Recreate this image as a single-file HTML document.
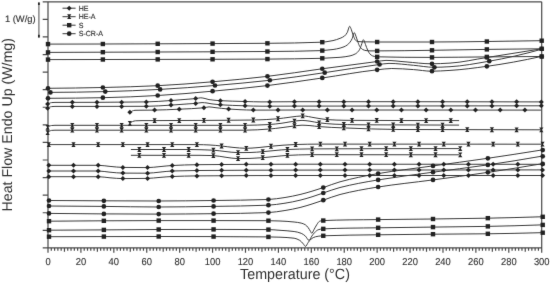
<!DOCTYPE html>
<html><head><meta charset="utf-8"><style>
html,body{margin:0;padding:0;background:#fff;width:550px;height:283px;overflow:hidden}
svg{display:block;font-family:"Liberation Sans",sans-serif;text-rendering:geometricPrecision}
text{stroke:#333;stroke-width:0.15px;paint-order:stroke}
.nb{stroke-width:0}
.lb text{stroke-width:0.12px}
#w{width:550px;height:283px;will-change:transform}
</style></head><body><div id="w">
<svg width="550" height="283" viewBox="0 0 550 283">
<defs><filter id="bl" x="0" y="0" width="550" height="283" filterUnits="userSpaceOnUse"><feConvolveMatrix order="3" kernelMatrix="0.0052 0.0619 0.0052 0.0619 0.7314 0.0619 0.0052 0.0619 0.0052" edgeMode="duplicate" preserveAlpha="false"/></filter></defs>
<rect width="550" height="283" fill="#fff"/>
<g filter="url(#bl)">
<g fill="none" stroke="#4a4a4a" stroke-width="1.2">
<path d="M42.7 1.8H541.7M48.0 1.8V252.8M541.7 1.8V252.8M42.7 247.9H541.7"/>
<path d="M42.7 19.38H48.0M42.7 36.96H48.0M42.7 54.54H48.0M42.7 72.11H48.0M42.7 89.69H48.0M42.7 107.27H48.0M42.7 124.85H48.0M42.7 142.43H48.0M42.7 160.01H48.0M42.7 177.59H48.0M42.7 195.16H48.0M42.7 212.74H48.0M42.7 230.32H48.0M51.29 247.9v2.9M54.58 247.9v2.9M57.87 247.9v2.9M61.17 247.9v2.9M64.46 247.9v3.8M67.75 247.9v2.9M71.04 247.9v2.9M74.33 247.9v2.9M77.62 247.9v2.9M80.91 247.9v4.9M84.21 247.9v2.9M87.50 247.9v2.9M90.79 247.9v2.9M94.08 247.9v2.9M97.37 247.9v3.8M100.66 247.9v2.9M103.95 247.9v2.9M107.25 247.9v2.9M110.54 247.9v2.9M113.83 247.9v4.9M117.12 247.9v2.9M120.41 247.9v2.9M123.70 247.9v2.9M126.99 247.9v2.9M130.28 247.9v3.8M133.58 247.9v2.9M136.87 247.9v2.9M140.16 247.9v2.9M143.45 247.9v2.9M146.74 247.9v4.9M150.03 247.9v2.9M153.32 247.9v2.9M156.62 247.9v2.9M159.91 247.9v2.9M163.20 247.9v3.8M166.49 247.9v2.9M169.78 247.9v2.9M173.07 247.9v2.9M176.36 247.9v2.9M179.66 247.9v4.9M182.95 247.9v2.9M186.24 247.9v2.9M189.53 247.9v2.9M192.82 247.9v2.9M196.11 247.9v3.8M199.40 247.9v2.9M202.70 247.9v2.9M205.99 247.9v2.9M209.28 247.9v2.9M212.57 247.9v4.9M215.86 247.9v2.9M219.15 247.9v2.9M222.44 247.9v2.9M225.74 247.9v2.9M229.03 247.9v3.8M232.32 247.9v2.9M235.61 247.9v2.9M238.90 247.9v2.9M242.19 247.9v2.9M245.48 247.9v4.9M248.78 247.9v2.9M252.07 247.9v2.9M255.36 247.9v2.9M258.65 247.9v2.9M261.94 247.9v3.8M265.23 247.9v2.9M268.52 247.9v2.9M271.82 247.9v2.9M275.11 247.9v2.9M278.40 247.9v4.9M281.69 247.9v2.9M284.98 247.9v2.9M288.27 247.9v2.9M291.56 247.9v2.9M294.86 247.9v3.8M298.15 247.9v2.9M301.44 247.9v2.9M304.73 247.9v2.9M308.02 247.9v2.9M311.31 247.9v4.9M314.60 247.9v2.9M317.89 247.9v2.9M321.19 247.9v2.9M324.48 247.9v2.9M327.77 247.9v3.8M331.06 247.9v2.9M334.35 247.9v2.9M337.64 247.9v2.9M340.93 247.9v2.9M344.23 247.9v4.9M347.52 247.9v2.9M350.81 247.9v2.9M354.10 247.9v2.9M357.39 247.9v2.9M360.68 247.9v3.8M363.97 247.9v2.9M367.27 247.9v2.9M370.56 247.9v2.9M373.85 247.9v2.9M377.14 247.9v4.9M380.43 247.9v2.9M383.72 247.9v2.9M387.01 247.9v2.9M390.31 247.9v2.9M393.60 247.9v3.8M396.89 247.9v2.9M400.18 247.9v2.9M403.47 247.9v2.9M406.76 247.9v2.9M410.05 247.9v4.9M413.35 247.9v2.9M416.64 247.9v2.9M419.93 247.9v2.9M423.22 247.9v2.9M426.51 247.9v3.8M429.80 247.9v2.9M433.09 247.9v2.9M436.39 247.9v2.9M439.68 247.9v2.9M442.97 247.9v4.9M446.26 247.9v2.9M449.55 247.9v2.9M452.84 247.9v2.9M456.13 247.9v2.9M459.43 247.9v3.8M462.72 247.9v2.9M466.01 247.9v2.9M469.30 247.9v2.9M472.59 247.9v2.9M475.88 247.9v4.9M479.17 247.9v2.9M482.46 247.9v2.9M485.76 247.9v2.9M489.05 247.9v2.9M492.34 247.9v3.8M495.63 247.9v2.9M498.92 247.9v2.9M502.21 247.9v2.9M505.50 247.9v2.9M508.80 247.9v4.9M512.09 247.9v2.9M515.38 247.9v2.9M518.67 247.9v2.9M521.96 247.9v2.9M525.25 247.9v3.8M528.54 247.9v2.9M531.84 247.9v2.9M535.13 247.9v2.9M538.42 247.9v2.9"/>
</g>
<line x1="38.9" y1="2.4" x2="38.9" y2="37.4" stroke="#6a6a6a" stroke-width="1.2"/><line x1="38.9" y1="2.4" x2="38.9" y2="5.0" stroke="#222" stroke-width="1.7"/><line x1="38.9" y1="34.8" x2="38.9" y2="37.4" stroke="#222" stroke-width="1.7"/>
<g fill="none" stroke="#3a3a3a" stroke-width="1.0" stroke-linejoin="round">
<path d="M48.10 88.30C66.37 88.20 84.63 87.87 102.90 87.50C121.13 87.13 139.37 86.52 157.60 85.70C175.87 84.88 194.13 83.31 212.40 81.80C230.67 80.29 248.93 78.50 267.20 76.40C285.47 74.30 303.73 71.27 322.00 68.80C340.17 66.34 358.33 63.93 376.50 61.60C379.67 61.19 382.83 60.40 386.00 60.40C392.67 60.40 399.33 61.40 406.00 61.90C414.43 62.53 422.87 63.80 431.30 63.80C437.53 63.80 443.77 63.45 450.00 63.10C462.10 62.42 474.20 59.47 486.30 57.60C504.57 54.77 522.83 51.88 541.10 48.90"/>
<path d="M48.10 92.40C67.13 92.39 86.17 92.00 105.20 91.60C123.43 91.22 141.67 90.34 159.90 89.40C178.17 88.46 196.43 86.99 214.70 85.50C232.97 84.01 251.23 82.36 269.50 80.30C287.77 78.24 306.03 75.32 324.30 72.70C342.43 70.10 360.57 66.91 378.70 64.60C382.13 64.16 385.57 63.40 389.00 63.40C397.20 63.40 405.40 64.59 413.60 65.30C420.40 65.89 427.20 67.30 434.00 67.30C439.33 67.30 444.67 66.99 450.00 66.70C462.87 66.00 475.73 63.50 488.60 61.30C506.10 58.31 523.60 54.24 541.10 49.40"/>
<path d="M48.10 98.30C66.37 98.30 84.63 98.01 102.90 97.70C121.13 97.39 139.37 96.47 157.60 95.50C175.87 94.53 194.13 92.82 212.40 91.20C230.67 89.58 248.93 87.75 267.20 85.60C285.47 83.45 303.73 80.62 322.00 78.00C340.17 75.39 358.33 71.87 376.50 69.90C381.60 69.35 386.70 68.50 391.80 68.50C399.07 68.50 406.33 69.12 413.60 69.60C419.50 69.99 425.40 71.20 431.30 71.20C437.53 71.20 443.77 70.77 450.00 70.40C462.10 69.69 474.20 68.03 486.30 66.40C504.57 63.94 522.83 60.57 541.10 56.50"/>
<path d="M48.10 44.10C66.37 44.08 84.63 44.04 102.90 44.00C121.13 43.96 139.37 43.87 157.60 43.80C175.87 43.73 194.13 43.68 212.40 43.60C230.67 43.52 248.93 43.46 267.20 43.30C285.47 43.14 303.73 42.96 322.00 42.20C323.33 42.14 324.67 41.96 326.00 41.80C328.33 41.51 330.67 41.12 333.00 40.60C335.37 40.07 337.73 39.26 340.10 38.30C341.53 37.72 342.97 37.17 344.40 36.10C345.33 35.40 346.27 34.17 347.20 32.60C348.03 31.20 348.87 26.30 349.70 26.30C350.27 26.30 350.83 28.43 351.40 29.80C352.10 31.50 352.80 34.44 353.50 36.10C354.23 37.84 354.97 39.80 355.70 40.40C356.40 40.98 357.10 41.40 357.80 41.50C359.20 41.69 360.60 41.76 362.00 41.80C366.90 41.93 371.80 42.00 376.70 42.00C394.97 42.00 413.23 42.00 431.50 42.00C449.77 42.00 468.03 41.71 486.30 41.50C504.57 41.29 522.83 41.02 541.10 40.70"/>
<path d="M48.10 52.40C66.37 52.33 84.63 52.27 102.90 52.20C121.13 52.13 139.37 52.07 157.60 52.00C175.87 51.93 194.13 51.88 212.40 51.80C230.67 51.72 248.93 51.65 267.20 51.50C285.47 51.35 303.73 51.25 322.00 50.60C323.33 50.55 324.67 50.33 326.00 50.20C328.33 49.97 330.67 49.81 333.00 49.50C335.37 49.19 337.73 48.70 340.10 48.10C341.40 47.77 342.70 47.35 344.00 46.80C345.07 46.35 346.13 45.77 347.20 45.00C348.13 44.32 349.07 43.38 350.00 42.20C350.70 41.31 351.40 40.18 352.10 38.70C352.80 37.22 353.50 32.60 354.20 32.60C354.77 32.60 355.33 34.72 355.90 36.10C356.53 37.64 357.17 40.13 357.80 41.80C358.50 43.64 359.20 45.70 359.90 46.70C360.83 48.03 361.77 49.03 362.70 49.50C363.80 50.06 364.90 50.46 366.00 50.60C367.33 50.77 368.67 50.90 370.00 50.90C372.23 50.90 374.47 50.90 376.70 50.90C394.97 50.90 413.23 50.54 431.50 50.30C449.77 50.06 468.03 49.64 486.30 49.40C504.57 49.16 522.83 48.95 541.10 48.80"/>
<path d="M48.10 59.60C66.37 59.57 84.63 59.53 102.90 59.50C121.13 59.47 139.37 59.43 157.60 59.40C175.87 59.37 194.13 59.34 212.40 59.30C230.67 59.26 248.93 59.21 267.20 59.10C285.47 58.99 303.73 58.79 322.00 58.30C323.33 58.26 324.67 58.17 326.00 58.10C330.70 57.85 335.40 57.69 340.10 57.30C343.40 57.03 346.70 56.61 350.00 55.90C351.90 55.49 353.80 54.80 355.70 53.70C356.87 53.03 358.03 51.89 359.20 50.20C359.90 49.19 360.60 47.04 361.30 45.30C362.00 43.56 362.70 39.70 363.40 39.70C364.10 39.70 364.80 42.90 365.50 44.60C366.23 46.38 366.97 48.70 367.70 50.20C368.40 51.63 369.10 53.06 369.80 53.80C370.73 54.79 371.67 55.57 372.60 55.90C373.97 56.38 375.33 56.76 376.70 56.80C394.97 57.31 413.23 57.40 431.50 57.40C449.77 57.40 468.03 57.05 486.30 56.90C504.57 56.75 522.83 56.62 541.10 56.50"/>
<path d="M48.10 104.10C48.57 103.73 49.03 103.40 49.50 103.20C50.17 102.92 50.83 102.67 51.50 102.60C52.67 102.48 53.83 102.41 55.00 102.40C70.00 102.31 85.00 102.35 100.00 102.30C115.47 102.25 130.93 102.15 146.40 101.90C154.70 101.77 163.00 101.05 171.30 100.50C176.87 100.13 182.43 99.63 188.00 99.20C190.57 99.00 193.13 98.87 195.70 98.60C197.40 98.42 199.10 97.80 200.80 97.80C202.20 97.80 203.60 98.21 205.00 98.50C206.33 98.78 207.67 99.38 209.00 99.60C211.00 99.94 213.00 100.12 215.00 100.30C216.83 100.46 218.67 100.61 220.50 100.70C228.67 101.10 236.83 101.28 245.00 101.50C250.67 101.65 256.33 101.90 262.00 101.90C274.67 101.90 287.33 101.70 300.00 101.70C333.33 101.70 366.67 101.70 400.00 101.70C447.03 101.70 494.07 101.79 541.10 101.90"/>
<path d="M48.10 108.20C48.57 107.79 49.03 107.40 49.50 107.20C50.17 106.91 50.83 106.67 51.50 106.60C52.67 106.48 53.83 106.40 55.00 106.40C70.00 106.40 85.00 106.40 100.00 106.40C115.47 106.40 130.93 106.37 146.40 106.30C154.70 106.26 163.00 105.59 171.30 105.10C176.87 104.77 182.43 104.28 188.00 103.90C190.57 103.73 193.13 103.62 195.70 103.40C197.80 103.22 199.90 102.60 202.00 102.60C203.67 102.60 205.33 102.82 207.00 103.00C208.67 103.18 210.33 103.67 212.00 103.90C214.83 104.29 217.67 104.62 220.50 104.80C228.67 105.32 236.83 105.56 245.00 105.80C250.67 105.97 256.33 106.20 262.00 106.20C274.67 106.20 287.33 106.12 300.00 106.10C333.33 106.05 366.67 106.04 400.00 106.00C447.03 105.95 494.07 105.88 541.10 105.80"/>
<path d="M130.30 112.20C130.97 111.70 131.63 111.25 132.30 111.00C133.20 110.67 134.10 110.33 135.00 110.30C137.33 110.23 139.67 110.22 142.00 110.20C146.07 110.16 150.13 110.15 154.20 110.10C162.50 110.00 170.80 109.57 179.10 109.20C187.30 108.84 195.50 108.58 203.70 107.80C205.47 107.63 207.23 106.90 209.00 106.90C211.00 106.90 213.00 107.38 215.00 107.60C219.50 108.10 224.00 108.66 228.50 109.00C232.33 109.29 236.17 109.54 240.00 109.70C244.33 109.88 248.67 110.10 253.00 110.10C268.67 110.10 284.33 110.00 300.00 110.00C333.33 110.00 366.67 110.00 400.00 110.00C447.03 110.00 494.07 110.05 541.10 110.10"/>
<path d="M130.30 123.30C131.03 122.58 131.77 121.90 132.50 121.60C133.50 121.19 134.50 120.86 135.50 120.80C137.67 120.67 139.83 120.60 142.00 120.60C146.17 120.60 150.33 120.60 154.50 120.60C171.00 120.60 187.50 120.49 204.00 120.40C221.00 120.31 238.00 120.26 255.00 120.00C262.43 119.89 269.87 119.38 277.30 118.80C281.53 118.47 285.77 117.69 290.00 117.20C294.10 116.73 298.20 115.90 302.30 115.90C306.53 115.90 310.77 117.17 315.00 117.80C319.03 118.40 323.07 119.34 327.10 119.60C333.07 119.98 339.03 120.26 345.00 120.30C383.03 120.54 421.07 120.60 459.10 120.60"/>
<path d="M48.10 127.30C48.57 126.79 49.03 126.31 49.50 126.10C50.17 125.80 50.83 125.57 51.50 125.50C52.67 125.38 53.83 125.30 55.00 125.30C118.33 125.30 181.67 125.30 245.00 125.30C253.17 125.30 261.33 124.93 269.50 124.50C273.67 124.28 277.83 123.73 282.00 123.20C286.00 122.69 290.00 121.69 294.00 121.20C296.67 120.87 299.33 120.40 302.00 120.40C304.67 120.40 307.33 120.86 310.00 121.20C312.93 121.58 315.87 122.44 318.80 122.80C324.20 123.46 329.60 123.99 335.00 124.20C343.33 124.53 351.67 124.75 360.00 124.80C393.03 125.01 426.07 125.10 459.10 125.10"/>
<path d="M48.10 132.60C48.57 132.02 49.03 131.47 49.50 131.20C50.17 130.81 50.83 130.47 51.50 130.40C52.67 130.27 53.83 130.20 55.00 130.20C118.33 130.20 181.67 130.20 245.00 130.20C253.17 130.20 261.33 129.58 269.50 129.00C273.67 128.70 277.83 128.11 282.00 127.60C286.00 127.11 290.00 126.45 294.00 126.00C296.67 125.70 299.33 125.20 302.00 125.20C304.67 125.20 307.33 125.42 310.00 125.60C312.93 125.80 315.87 126.38 318.80 126.60C327.07 127.23 335.33 127.58 343.60 127.90C362.40 128.62 381.20 129.42 400.00 129.50C447.03 129.71 494.07 129.80 541.10 129.80"/>
<path d="M48.10 144.60C97.70 144.60 147.30 144.60 196.90 144.60C201.27 144.60 205.63 144.80 210.00 145.00C213.83 145.18 217.67 145.61 221.50 146.00C225.33 146.39 229.17 147.06 233.00 147.40C237.33 147.78 241.67 148.30 246.00 148.30C250.00 148.30 254.00 147.90 258.00 147.60C262.17 147.29 266.33 146.70 270.50 146.30C274.67 145.90 278.83 145.49 283.00 145.20C287.17 144.91 291.33 144.61 295.50 144.50C303.67 144.28 311.83 144.10 320.00 144.10C393.70 144.10 467.40 144.10 541.10 144.20"/>
<path d="M130.90 149.50C150.17 149.50 169.43 149.50 188.70 149.50C192.47 149.50 196.23 149.61 200.00 149.70C204.53 149.81 209.07 149.95 213.60 150.20C217.73 150.43 221.87 151.20 226.00 151.60C229.93 151.98 233.87 152.60 237.80 152.60C241.87 152.60 245.93 152.56 250.00 152.50C254.23 152.44 258.47 152.02 262.70 151.70C266.80 151.39 270.90 150.86 275.00 150.50C279.10 150.14 283.20 149.66 287.30 149.50C295.47 149.17 303.63 148.94 311.80 148.90C360.90 148.67 410.00 148.60 459.10 148.60"/>
<path d="M130.90 155.30C150.17 155.30 169.43 155.30 188.70 155.30C192.47 155.30 196.23 155.30 200.00 155.30C204.53 155.30 209.07 155.43 213.60 155.60C217.73 155.76 221.87 156.80 226.00 157.30C229.93 157.78 233.87 158.60 237.80 158.60C241.87 158.60 245.93 158.50 250.00 158.40C254.23 158.29 258.47 158.00 262.70 157.70C266.80 157.41 270.90 156.88 275.00 156.50C279.10 156.12 283.20 155.60 287.30 155.40C294.87 155.04 302.43 154.70 310.00 154.70C359.70 154.70 409.40 154.70 459.10 154.80"/>
<path d="M48.10 165.30C64.80 165.30 81.50 165.30 98.20 165.30C102.13 165.30 106.07 166.06 110.00 166.40C114.23 166.76 118.47 167.33 122.70 167.40C130.90 167.53 139.10 167.60 147.30 167.60C151.53 167.60 155.77 166.96 160.00 166.60C164.07 166.26 168.13 165.70 172.20 165.50C180.43 165.09 188.67 164.78 196.90 164.70C231.27 164.36 265.63 164.20 300.00 164.20C380.37 164.20 460.73 164.20 541.10 164.30"/>
<path d="M48.10 171.00C64.80 171.00 81.50 171.00 98.20 171.00C102.13 171.00 106.07 171.87 110.00 172.20C114.23 172.55 118.47 173.06 122.70 173.10C130.90 173.17 139.10 173.20 147.30 173.20C151.53 173.20 155.77 172.47 160.00 172.10C164.07 171.74 168.13 171.14 172.20 171.00C180.43 170.71 188.67 170.56 196.90 170.50C231.27 170.24 265.63 170.15 300.00 170.10C380.37 169.98 460.73 169.90 541.10 169.90"/>
<path d="M48.10 176.70C64.80 176.70 81.50 176.70 98.20 176.70C102.13 176.70 106.07 177.50 110.00 177.80C114.23 178.12 118.47 178.60 122.70 178.60C130.90 178.60 139.10 178.53 147.30 178.40C151.53 178.33 155.77 177.72 160.00 177.40C164.07 177.09 168.13 176.66 172.20 176.50C180.43 176.18 188.67 175.96 196.90 175.90C231.27 175.63 265.63 175.50 300.00 175.50C380.37 175.50 460.73 175.50 541.10 175.50"/>
<path d="M48.10 200.50C66.37 200.62 84.63 200.72 102.90 200.80C121.37 200.88 139.83 201.00 158.30 201.00C176.60 201.00 194.90 200.72 213.20 200.50C231.43 200.28 249.67 200.16 267.90 199.50C273.60 199.29 279.30 198.35 285.00 197.50C290.00 196.76 295.00 195.66 300.00 194.50C304.00 193.57 308.00 192.38 312.00 191.20C315.47 190.18 318.93 189.04 322.40 187.90C328.27 185.96 334.13 183.41 340.00 181.80C352.50 178.38 365.00 175.86 377.50 173.70C395.73 170.55 413.97 168.55 432.20 166.00C450.47 163.45 468.73 161.06 487.00 158.40C505.03 155.77 523.07 153.00 541.10 150.10"/>
<path d="M48.10 206.00C66.37 206.10 84.63 206.24 102.90 206.40C121.37 206.56 139.83 207.00 158.30 207.00C176.60 207.00 194.90 206.67 213.20 206.40C231.43 206.13 249.67 205.97 267.90 205.20C273.60 204.96 279.30 204.05 285.00 203.20C290.00 202.46 295.00 201.38 300.00 200.20C304.00 199.26 308.00 198.03 312.00 196.80C315.47 195.73 318.93 194.46 322.40 193.30C328.27 191.34 334.13 189.00 340.00 187.50C352.50 184.29 365.00 182.09 377.50 180.00C395.73 176.95 413.97 174.80 432.20 172.30C450.47 169.80 468.73 167.66 487.00 165.00C505.03 162.37 523.07 159.45 541.10 156.30"/>
<path d="M48.10 213.40C66.37 213.62 84.63 213.81 102.90 213.90C121.37 214.00 139.83 214.10 158.30 214.10C176.60 214.10 194.90 213.90 213.20 213.70C231.43 213.50 249.67 213.32 267.90 212.60C273.60 212.37 279.30 211.37 285.00 210.50C290.00 209.74 295.00 208.69 300.00 207.50C304.00 206.54 308.00 205.25 312.00 204.00C315.47 202.91 318.93 201.67 322.40 200.50C328.27 198.51 334.13 196.02 340.00 194.50C352.50 191.27 365.00 189.08 377.50 187.10C395.73 184.21 413.97 182.43 432.20 180.00C450.47 177.57 468.73 175.19 487.00 172.50C505.03 169.85 523.07 166.96 541.10 163.90"/>
<path d="M48.10 221.20C66.37 221.03 84.63 220.89 102.90 220.80C121.37 220.71 139.83 220.60 158.30 220.60C176.60 220.60 194.90 220.60 213.20 220.60C231.43 220.60 249.67 220.62 267.90 220.70C271.93 220.72 275.97 220.85 280.00 221.00C284.70 221.17 289.40 221.52 294.10 222.00C296.47 222.24 298.83 222.55 301.20 223.10C302.60 223.43 304.00 223.96 305.40 224.80C306.33 225.36 307.27 226.52 308.20 227.70C308.93 228.63 309.67 230.07 310.40 231.20C310.87 231.92 311.33 233.30 311.80 233.30C312.50 233.30 313.20 231.00 313.90 229.80C314.83 228.19 315.77 226.17 316.70 224.80C317.63 223.43 318.57 221.68 319.50 221.30C320.47 220.91 321.43 220.64 322.40 220.60C340.77 219.76 359.13 219.85 377.50 219.60C395.73 219.35 413.97 219.23 432.20 219.00C450.47 218.77 468.73 218.54 487.00 218.20C505.03 217.86 523.07 217.37 541.10 216.80"/>
<path d="M48.10 230.20C66.37 230.12 84.63 230.01 102.90 229.90C121.37 229.79 139.83 229.55 158.30 229.50C176.60 229.45 194.90 229.40 213.20 229.40C231.43 229.40 249.67 229.45 267.90 229.60C271.93 229.63 275.97 230.02 280.00 230.30C284.70 230.62 289.40 230.87 294.10 231.50C296.47 231.82 298.83 232.40 301.20 233.30C302.60 233.83 304.00 234.89 305.40 236.10C306.60 237.13 307.80 240.40 309.00 240.40C309.93 240.40 310.87 237.39 311.80 236.10C312.73 234.81 313.67 233.52 314.60 232.60C315.77 231.45 316.93 230.20 318.10 229.80C319.53 229.31 320.97 228.97 322.40 228.90C340.77 228.02 359.13 228.09 377.50 227.80C395.73 227.52 413.97 227.33 432.20 227.10C450.47 226.87 468.73 226.72 487.00 226.40C505.03 226.08 523.07 225.53 541.10 224.90"/>
<path d="M48.10 236.70C66.37 236.67 84.63 236.63 102.90 236.60C121.37 236.57 139.83 236.50 158.30 236.50C176.60 236.50 194.90 236.55 213.20 236.60C231.43 236.65 249.67 236.71 267.90 236.90C271.93 236.94 275.97 237.05 280.00 237.20C284.70 237.37 289.40 237.58 294.10 238.20C296.00 238.45 297.90 239.30 299.80 240.40C300.97 241.07 302.13 242.62 303.30 243.90C304.00 244.67 304.70 246.40 305.40 246.40C306.33 246.40 307.27 243.71 308.20 242.50C309.17 241.25 310.13 239.72 311.10 239.00C312.50 237.95 313.90 237.13 315.30 236.80C317.67 236.25 320.03 235.89 322.40 235.80C340.77 235.06 359.13 235.05 377.50 234.80C395.73 234.55 413.97 234.36 432.20 234.20C450.47 234.04 468.73 234.00 487.00 233.80C505.03 233.61 523.07 233.18 541.10 232.70"/>
</g>
<g fill="#222">
<circle cx="48.00" cy="88.30" r="2.35"/>
<circle cx="102.86" cy="87.50" r="2.35"/>
<circle cx="157.71" cy="85.69" r="2.35"/>
<circle cx="212.57" cy="81.79" r="2.35"/>
<circle cx="267.43" cy="76.37" r="2.35"/>
<circle cx="322.28" cy="68.76" r="2.35"/>
<circle cx="377.14" cy="61.51" r="2.35"/>
<circle cx="432.00" cy="63.80" r="2.35"/>
<circle cx="486.85" cy="57.51" r="2.35"/>
<circle cx="541.71" cy="48.90" r="2.35"/>
<circle cx="50.40" cy="92.40" r="2.35"/>
<circle cx="105.26" cy="91.60" r="2.35"/>
<circle cx="160.11" cy="89.39" r="2.35"/>
<circle cx="214.97" cy="85.48" r="2.35"/>
<circle cx="269.83" cy="80.26" r="2.35"/>
<circle cx="324.68" cy="72.64" r="2.35"/>
<circle cx="379.54" cy="64.49" r="2.35"/>
<circle cx="434.40" cy="67.30" r="2.35"/>
<circle cx="489.25" cy="61.19" r="2.35"/>
<circle cx="48.00" cy="98.30" r="2.35"/>
<circle cx="102.86" cy="97.70" r="2.35"/>
<circle cx="157.71" cy="95.49" r="2.35"/>
<circle cx="212.57" cy="91.18" r="2.35"/>
<circle cx="267.43" cy="85.57" r="2.35"/>
<circle cx="322.28" cy="77.96" r="2.35"/>
<circle cx="377.14" cy="69.83" r="2.35"/>
<circle cx="432.00" cy="71.20" r="2.35"/>
<circle cx="486.85" cy="66.33" r="2.35"/>
<circle cx="541.71" cy="56.50" r="2.35"/>
<rect x="45.80" y="41.90" width="4.4" height="4.4"/>
<rect x="100.66" y="41.80" width="4.4" height="4.4"/>
<rect x="155.51" y="41.60" width="4.4" height="4.4"/>
<rect x="210.37" y="41.40" width="4.4" height="4.4"/>
<rect x="265.23" y="41.10" width="4.4" height="4.4"/>
<rect x="320.08" y="39.99" width="4.4" height="4.4"/>
<rect x="374.94" y="39.80" width="4.4" height="4.4"/>
<rect x="429.80" y="39.80" width="4.4" height="4.4"/>
<rect x="484.65" y="39.29" width="4.4" height="4.4"/>
<rect x="539.51" y="38.50" width="4.4" height="4.4"/>
<rect x="45.80" y="50.20" width="4.4" height="4.4"/>
<rect x="100.66" y="50.00" width="4.4" height="4.4"/>
<rect x="155.51" y="49.80" width="4.4" height="4.4"/>
<rect x="210.37" y="49.60" width="4.4" height="4.4"/>
<rect x="265.23" y="49.30" width="4.4" height="4.4"/>
<rect x="320.08" y="48.39" width="4.4" height="4.4"/>
<rect x="374.94" y="48.70" width="4.4" height="4.4"/>
<rect x="429.80" y="48.09" width="4.4" height="4.4"/>
<rect x="484.65" y="47.19" width="4.4" height="4.4"/>
<rect x="539.51" y="46.60" width="4.4" height="4.4"/>
<rect x="45.80" y="57.40" width="4.4" height="4.4"/>
<rect x="100.66" y="57.30" width="4.4" height="4.4"/>
<rect x="155.51" y="57.20" width="4.4" height="4.4"/>
<rect x="210.37" y="57.10" width="4.4" height="4.4"/>
<rect x="265.23" y="56.90" width="4.4" height="4.4"/>
<rect x="320.08" y="56.09" width="4.4" height="4.4"/>
<rect x="374.94" y="54.61" width="4.4" height="4.4"/>
<rect x="429.80" y="55.20" width="4.4" height="4.4"/>
<rect x="484.65" y="54.70" width="4.4" height="4.4"/>
<rect x="539.51" y="54.30" width="4.4" height="4.4"/>
<path d="M47.60 101.60L50.10 104.10L47.60 106.60L45.10 104.10Z"/>
<path d="M72.29 99.84L74.79 102.34L72.29 104.84L69.79 102.34Z"/>
<path d="M96.97 99.81L99.47 102.31L96.97 104.81L94.47 102.31Z"/>
<path d="M121.66 99.69L124.16 102.19L121.66 104.69L119.16 102.19Z"/>
<path d="M146.34 99.40L148.84 101.90L146.34 104.40L143.84 101.90Z"/>
<path d="M171.03 98.02L173.53 100.52L171.03 103.02L168.53 100.52Z"/>
<path d="M195.71 96.10L198.21 98.60L195.71 101.10L193.21 98.60Z"/>
<path d="M220.40 98.19L222.90 100.69L220.40 103.19L217.90 100.69Z"/>
<path d="M245.08 99.00L247.58 101.50L245.08 104.00L242.58 101.50Z"/>
<path d="M269.77 99.38L272.27 101.88L269.77 104.38L267.27 101.88Z"/>
<path d="M294.46 99.21L296.96 101.71L294.46 104.21L291.96 101.71Z"/>
<path d="M319.14 99.20L321.64 101.70L319.14 104.20L316.64 101.70Z"/>
<path d="M343.83 99.20L346.33 101.70L343.83 104.20L341.33 101.70Z"/>
<path d="M368.51 99.20L371.01 101.70L368.51 104.20L366.01 101.70Z"/>
<path d="M393.20 99.20L395.70 101.70L393.20 104.20L390.70 101.70Z"/>
<path d="M417.88 99.20L420.38 101.70L417.88 104.20L415.38 101.70Z"/>
<path d="M442.57 99.22L445.07 101.72L442.57 104.22L440.07 101.72Z"/>
<path d="M467.25 99.26L469.75 101.76L467.25 104.26L464.75 101.76Z"/>
<path d="M491.94 99.30L494.44 101.80L491.94 104.30L489.44 101.80Z"/>
<path d="M516.62 99.35L519.12 101.85L516.62 104.35L514.12 101.85Z"/>
<path d="M541.31 99.40L543.81 101.90L541.31 104.40L538.81 101.90Z"/>
<path d="M47.60 105.70L50.10 108.20L47.60 110.70L45.10 108.20Z"/>
<path d="M72.29 103.90L74.79 106.40L72.29 108.90L69.79 106.40Z"/>
<path d="M96.97 103.90L99.47 106.40L96.97 108.90L94.47 106.40Z"/>
<path d="M121.66 103.88L124.16 106.38L121.66 108.88L119.16 106.38Z"/>
<path d="M146.34 103.80L148.84 106.30L146.34 108.80L143.84 106.30Z"/>
<path d="M171.03 102.62L173.53 105.12L171.03 107.62L168.53 105.12Z"/>
<path d="M195.71 100.90L198.21 103.40L195.71 105.90L193.21 103.40Z"/>
<path d="M220.40 102.29L222.90 104.79L220.40 107.29L217.90 104.79Z"/>
<path d="M245.08 103.30L247.58 105.80L245.08 108.30L242.58 105.80Z"/>
<path d="M269.77 103.69L272.27 106.19L269.77 108.69L267.27 106.19Z"/>
<path d="M294.46 103.61L296.96 106.11L294.46 108.61L291.96 106.11Z"/>
<path d="M319.14 103.57L321.64 106.07L319.14 108.57L316.64 106.07Z"/>
<path d="M343.83 103.55L346.33 106.05L343.83 108.55L341.33 106.05Z"/>
<path d="M368.51 103.53L371.01 106.03L368.51 108.53L366.01 106.03Z"/>
<path d="M393.20 103.51L395.70 106.01L393.20 108.51L390.70 106.01Z"/>
<path d="M417.88 103.48L420.38 105.98L417.88 108.48L415.38 105.98Z"/>
<path d="M442.57 103.45L445.07 105.95L442.57 108.45L440.07 105.95Z"/>
<path d="M467.25 103.41L469.75 105.91L467.25 108.41L464.75 105.91Z"/>
<path d="M491.94 103.38L494.44 105.88L491.94 108.38L489.44 105.88Z"/>
<path d="M516.62 103.34L519.12 105.84L516.62 108.34L514.12 105.84Z"/>
<path d="M541.31 103.30L543.81 105.80L541.31 108.30L538.81 105.80Z"/>
<path d="M129.88 109.70L132.38 112.20L129.88 114.70L127.38 112.20Z"/>
<path d="M154.57 107.60L157.07 110.10L154.57 112.60L152.07 110.10Z"/>
<path d="M179.26 106.69L181.76 109.19L179.26 111.69L176.76 109.19Z"/>
<path d="M203.94 105.27L206.44 107.77L203.94 110.27L201.44 107.77Z"/>
<path d="M228.63 106.51L231.13 109.01L228.63 111.51L226.13 109.01Z"/>
<path d="M253.31 107.60L255.81 110.10L253.31 112.60L250.81 110.10Z"/>
<path d="M278.00 107.55L280.50 110.05L278.00 112.55L275.50 110.05Z"/>
<path d="M302.68 107.50L305.18 110.00L302.68 112.50L300.18 110.00Z"/>
<path d="M327.37 107.50L329.87 110.00L327.37 112.50L324.87 110.00Z"/>
<path d="M352.05 107.50L354.55 110.00L352.05 112.50L349.55 110.00Z"/>
<path d="M376.74 107.50L379.24 110.00L376.74 112.50L374.24 110.00Z"/>
<path d="M401.43 107.50L403.93 110.00L401.43 112.50L398.93 110.00Z"/>
<path d="M426.11 107.50L428.61 110.00L426.11 112.50L423.61 110.00Z"/>
<path d="M450.80 107.52L453.30 110.02L450.80 112.52L448.30 110.02Z"/>
<path d="M475.48 107.53L477.98 110.03L475.48 112.53L472.98 110.03Z"/>
<path d="M500.17 107.56L502.67 110.06L500.17 112.56L497.67 110.06Z"/>
<path d="M524.85 107.58L527.35 110.08L524.85 112.58L522.35 110.08Z"/>
<path d="M127.78 120.90H131.98L130.38 123.30L131.98 125.70H127.78L129.38 123.30Z"/>
<path d="M152.47 118.20H156.67L155.07 120.60L156.67 123.00H152.47L154.07 120.60Z"/>
<path d="M177.16 118.13H181.36L179.76 120.53L181.36 122.93H177.16L178.76 120.53Z"/>
<path d="M201.84 118.00H206.04L204.44 120.40L206.04 122.80H201.84L203.44 120.40Z"/>
<path d="M226.53 117.87H230.73L229.13 120.27L230.73 122.67H226.53L228.13 120.27Z"/>
<path d="M251.21 117.62H255.41L253.81 120.02L255.41 122.42H251.21L252.81 120.02Z"/>
<path d="M275.90 116.34H280.10L278.50 118.74L280.10 121.14H275.90L277.50 118.74Z"/>
<path d="M300.58 113.50H304.78L303.18 115.90L304.78 118.30H300.58L302.18 115.90Z"/>
<path d="M325.27 117.22H329.47L327.87 119.62L329.47 122.02H325.27L326.87 119.62Z"/>
<path d="M349.95 117.94H354.15L352.55 120.34L354.15 122.74H349.95L351.55 120.34Z"/>
<path d="M374.64 118.06H378.84L377.24 120.46L378.84 122.86H374.64L376.24 120.46Z"/>
<path d="M399.33 118.14H403.53L401.93 120.54L403.53 122.94H399.33L400.93 120.54Z"/>
<path d="M424.01 118.18H428.21L426.61 120.58L428.21 122.98H424.01L425.61 120.58Z"/>
<path d="M448.70 118.20H452.90L451.30 120.60L452.90 123.00H448.70L450.30 120.60Z"/>
<path d="M45.50 124.90H49.70L48.10 127.30L49.70 129.70H45.50L47.10 127.30Z"/>
<path d="M70.19 122.90H74.39L72.79 125.30L74.39 127.70H70.19L71.79 125.30Z"/>
<path d="M94.87 122.90H99.07L97.47 125.30L99.07 127.70H94.87L96.47 125.30Z"/>
<path d="M119.56 122.90H123.76L122.16 125.30L123.76 127.70H119.56L121.16 125.30Z"/>
<path d="M144.24 122.90H148.44L146.84 125.30L148.44 127.70H144.24L145.84 125.30Z"/>
<path d="M168.93 122.90H173.13L171.53 125.30L173.13 127.70H168.93L170.53 125.30Z"/>
<path d="M193.61 122.90H197.81L196.21 125.30L197.81 127.70H193.61L195.21 125.30Z"/>
<path d="M218.30 122.90H222.50L220.90 125.30L222.50 127.70H218.30L219.90 125.30Z"/>
<path d="M242.98 122.90H247.18L245.58 125.30L247.18 127.70H242.98L244.58 125.30Z"/>
<path d="M267.67 122.09H271.87L270.27 124.49L271.87 126.89H267.67L269.27 124.49Z"/>
<path d="M292.36 118.74H296.56L294.96 121.14L296.56 123.54H292.36L293.96 121.14Z"/>
<path d="M317.04 120.44H321.24L319.64 122.84L321.24 125.24H317.04L318.64 122.84Z"/>
<path d="M341.73 122.10H345.93L344.33 124.50L345.93 126.90H341.73L343.33 124.50Z"/>
<path d="M366.41 122.45H370.61L369.01 124.85L370.61 127.25H366.41L368.01 124.85Z"/>
<path d="M391.10 122.57H395.30L393.70 124.97L395.30 127.37H391.10L392.70 124.97Z"/>
<path d="M415.78 122.65H419.98L418.38 125.05L419.98 127.45H415.78L417.38 125.05Z"/>
<path d="M440.47 122.69H444.67L443.07 125.09L444.67 127.49H440.47L442.07 125.09Z"/>
<path d="M45.50 130.20H49.70L48.10 132.60L49.70 135.00H45.50L47.10 132.60Z"/>
<path d="M70.19 127.80H74.39L72.79 130.20L74.39 132.60H70.19L71.79 130.20Z"/>
<path d="M94.87 127.80H99.07L97.47 130.20L99.07 132.60H94.87L96.47 130.20Z"/>
<path d="M119.56 127.80H123.76L122.16 130.20L123.76 132.60H119.56L121.16 130.20Z"/>
<path d="M144.24 127.80H148.44L146.84 130.20L148.44 132.60H144.24L145.84 130.20Z"/>
<path d="M168.93 127.80H173.13L171.53 130.20L173.13 132.60H168.93L170.53 130.20Z"/>
<path d="M193.61 127.80H197.81L196.21 130.20L197.81 132.60H193.61L195.21 130.20Z"/>
<path d="M218.30 127.80H222.50L220.90 130.20L222.50 132.60H218.30L219.90 130.20Z"/>
<path d="M242.98 127.80H247.18L245.58 130.20L247.18 132.60H242.98L244.58 130.20Z"/>
<path d="M267.67 126.58H271.87L270.27 128.98L271.87 131.38H267.67L269.27 128.98Z"/>
<path d="M292.36 123.55H296.56L294.96 125.95L296.56 128.35H292.36L293.96 125.95Z"/>
<path d="M317.04 124.23H321.24L319.64 126.63L321.24 129.03H317.04L318.64 126.63Z"/>
<path d="M341.73 125.51H345.93L344.33 127.91L345.93 130.31H341.73L343.33 127.91Z"/>
<path d="M366.41 126.43H370.61L369.01 128.83L370.61 131.23H366.41L368.01 128.83Z"/>
<path d="M391.10 127.04H395.30L393.70 129.44L395.30 131.84H391.10L392.70 129.44Z"/>
<path d="M415.78 127.17H419.98L418.38 129.57L419.98 131.97H415.78L417.38 129.57Z"/>
<path d="M440.47 127.26H444.67L443.07 129.66L444.67 132.06H440.47L442.07 129.66Z"/>
<path d="M465.15 127.32H469.35L467.75 129.72L469.35 132.12H465.15L466.75 129.72Z"/>
<path d="M489.84 127.37H494.04L492.44 129.77L494.04 132.17H489.84L491.44 129.77Z"/>
<path d="M514.52 127.39H518.72L517.12 129.79L518.72 132.19H514.52L516.12 129.79Z"/>
<path d="M539.21 127.40H543.41L541.81 129.80L543.41 132.20H539.21L540.81 129.80Z"/>
<path d="M46.70 142.20H50.90L49.30 144.60L50.90 147.00H46.70L48.30 144.60Z"/>
<path d="M71.39 142.20H75.59L73.99 144.60L75.59 147.00H71.39L72.99 144.60Z"/>
<path d="M96.07 142.20H100.27L98.67 144.60L100.27 147.00H96.07L97.67 144.60Z"/>
<path d="M120.76 142.20H124.96L123.36 144.60L124.96 147.00H120.76L122.36 144.60Z"/>
<path d="M145.44 142.20H149.64L148.04 144.60L149.64 147.00H145.44L147.04 144.60Z"/>
<path d="M170.13 142.20H174.33L172.73 144.60L174.33 147.00H170.13L171.73 144.60Z"/>
<path d="M194.81 142.20H199.01L197.41 144.60L199.01 147.00H194.81L196.41 144.60Z"/>
<path d="M219.50 143.61H223.70L222.10 146.01L223.70 148.41H219.50L221.10 146.01Z"/>
<path d="M244.18 145.90H248.38L246.78 148.30L248.38 150.70H244.18L245.78 148.30Z"/>
<path d="M268.87 143.86H273.07L271.47 146.26L273.07 148.66H268.87L270.47 146.26Z"/>
<path d="M293.56 142.10H297.76L296.16 144.50L297.76 146.90H293.56L295.16 144.50Z"/>
<path d="M318.24 141.70H322.44L320.84 144.10L322.44 146.50H318.24L319.84 144.10Z"/>
<path d="M342.93 141.70H347.13L345.53 144.10L347.13 146.50H342.93L344.53 144.10Z"/>
<path d="M367.61 141.70H371.81L370.21 144.10L371.81 146.50H367.61L369.21 144.10Z"/>
<path d="M392.30 141.70H396.50L394.90 144.10L396.50 146.50H392.30L393.90 144.10Z"/>
<path d="M416.98 141.71H421.18L419.58 144.11L421.18 146.51H416.98L418.58 144.11Z"/>
<path d="M441.67 141.72H445.87L444.27 144.12L445.87 146.52H441.67L443.27 144.12Z"/>
<path d="M466.35 141.73H470.55L468.95 144.13L470.55 146.53H466.35L467.95 144.13Z"/>
<path d="M491.04 141.75H495.24L493.64 144.15L495.24 146.55H491.04L492.64 144.15Z"/>
<path d="M515.72 141.77H519.92L518.32 144.17L519.92 146.57H515.72L517.32 144.17Z"/>
<path d="M540.41 141.80H544.61L543.01 144.20L544.61 146.60H540.41L542.01 144.20Z"/>
<path d="M137.21 147.10H141.41L139.81 149.50L141.41 151.90H137.21L138.81 149.50Z"/>
<path d="M161.90 147.10H166.10L164.50 149.50L166.10 151.90H161.90L163.50 149.50Z"/>
<path d="M186.58 147.10H190.78L189.18 149.50L190.78 151.90H186.58L188.18 149.50Z"/>
<path d="M211.27 147.79H215.47L213.87 150.19L215.47 152.59H211.27L212.87 150.19Z"/>
<path d="M235.96 150.20H240.16L238.56 152.60L240.16 155.00H235.96L237.56 152.60Z"/>
<path d="M260.64 149.30H264.84L263.24 151.70L264.84 154.10H260.64L262.24 151.70Z"/>
<path d="M285.33 147.09H289.53L287.93 149.49L289.53 151.89H285.33L286.93 149.49Z"/>
<path d="M310.01 146.50H314.21L312.61 148.90L314.21 151.30H310.01L311.61 148.90Z"/>
<path d="M334.70 146.40H338.90L337.30 148.80L338.90 151.20H334.70L336.30 148.80Z"/>
<path d="M359.38 146.32H363.58L361.98 148.72L363.58 151.12H359.38L360.98 148.72Z"/>
<path d="M384.07 146.26H388.27L386.67 148.66L388.27 151.06H384.07L385.67 148.66Z"/>
<path d="M408.75 146.23H412.95L411.35 148.63L412.95 151.03H408.75L410.35 148.63Z"/>
<path d="M433.44 146.21H437.64L436.04 148.61L437.64 151.01H433.44L435.04 148.61Z"/>
<path d="M458.12 146.20H462.33L460.73 148.60L462.33 151.00H458.12L459.73 148.60Z"/>
<path d="M137.21 152.90H141.41L139.81 155.30L141.41 157.70H137.21L138.81 155.30Z"/>
<path d="M161.90 152.90H166.10L164.50 155.30L166.10 157.70H161.90L163.50 155.30Z"/>
<path d="M186.58 152.90H190.78L189.18 155.30L190.78 157.70H186.58L188.18 155.30Z"/>
<path d="M211.27 153.19H215.47L213.87 155.59L215.47 157.99H211.27L212.87 155.59Z"/>
<path d="M235.96 156.20H240.16L238.56 158.60L240.16 161.00H235.96L237.56 158.60Z"/>
<path d="M260.64 155.30H264.84L263.24 157.70L264.84 160.10H260.64L262.24 157.70Z"/>
<path d="M285.33 152.99H289.53L287.93 155.39L289.53 157.79H285.33L286.93 155.39Z"/>
<path d="M310.01 152.30H314.21L312.61 154.70L314.21 157.10H310.01L311.61 154.70Z"/>
<path d="M334.70 152.30H338.90L337.30 154.70L338.90 157.10H334.70L336.30 154.70Z"/>
<path d="M359.38 152.30H363.58L361.98 154.70L363.58 157.10H359.38L360.98 154.70Z"/>
<path d="M384.07 152.31H388.27L386.67 154.71L388.27 157.11H384.07L385.67 154.71Z"/>
<path d="M408.75 152.33H412.95L411.35 154.73L412.95 157.13H408.75L410.35 154.73Z"/>
<path d="M433.44 152.36H437.64L436.04 154.76L437.64 157.16H433.44L435.04 154.76Z"/>
<path d="M458.12 152.40H462.33L460.73 154.80L462.33 157.20H458.12L459.73 154.80Z"/>
<path d="M48.80 162.80L51.30 165.30L48.80 167.80L46.30 165.30Z"/>
<path d="M73.49 162.80L75.99 165.30L73.49 167.80L70.99 165.30Z"/>
<path d="M98.17 162.80L100.67 165.30L98.17 167.80L95.67 165.30Z"/>
<path d="M122.86 164.90L125.36 167.40L122.86 169.90L120.36 167.40Z"/>
<path d="M147.54 165.10L150.04 167.60L147.54 170.10L145.04 167.60Z"/>
<path d="M172.23 163.00L174.73 165.50L172.23 168.00L169.73 165.50Z"/>
<path d="M196.91 162.20L199.41 164.70L196.91 167.20L194.41 164.70Z"/>
<path d="M221.60 161.99L224.10 164.49L221.60 166.99L219.10 164.49Z"/>
<path d="M246.28 161.83L248.78 164.33L246.28 166.83L243.78 164.33Z"/>
<path d="M270.97 161.74L273.47 164.24L270.97 166.74L268.47 164.24Z"/>
<path d="M295.66 161.70L298.16 164.20L295.66 166.70L293.16 164.20Z"/>
<path d="M320.34 161.70L322.84 164.20L320.34 166.70L317.84 164.20Z"/>
<path d="M345.03 161.70L347.53 164.20L345.03 166.70L342.53 164.20Z"/>
<path d="M369.71 161.70L372.21 164.20L369.71 166.70L367.21 164.20Z"/>
<path d="M394.40 161.71L396.90 164.21L394.40 166.71L391.90 164.21Z"/>
<path d="M419.08 161.71L421.58 164.21L419.08 166.71L416.58 164.21Z"/>
<path d="M443.77 161.72L446.27 164.22L443.77 166.72L441.27 164.22Z"/>
<path d="M468.45 161.73L470.95 164.23L468.45 166.73L465.95 164.23Z"/>
<path d="M493.14 161.75L495.64 164.25L493.14 166.75L490.64 164.25Z"/>
<path d="M517.82 161.77L520.32 164.27L517.82 166.77L515.32 164.27Z"/>
<path d="M542.51 161.80L545.01 164.30L542.51 166.80L540.01 164.30Z"/>
<path d="M48.80 168.50L51.30 171.00L48.80 173.50L46.30 171.00Z"/>
<path d="M73.49 168.50L75.99 171.00L73.49 173.50L70.99 171.00Z"/>
<path d="M98.17 168.50L100.67 171.00L98.17 173.50L95.67 171.00Z"/>
<path d="M122.86 170.60L125.36 173.10L122.86 175.60L120.36 173.10Z"/>
<path d="M147.54 170.70L150.04 173.20L147.54 175.70L145.04 173.20Z"/>
<path d="M172.23 168.50L174.73 171.00L172.23 173.50L169.73 171.00Z"/>
<path d="M196.91 168.00L199.41 170.50L196.91 173.00L194.41 170.50Z"/>
<path d="M221.60 167.84L224.10 170.34L221.60 172.84L219.10 170.34Z"/>
<path d="M246.28 167.73L248.78 170.23L246.28 172.73L243.78 170.23Z"/>
<path d="M270.97 167.66L273.47 170.16L270.97 172.66L268.47 170.16Z"/>
<path d="M295.66 167.61L298.16 170.11L295.66 172.61L293.16 170.11Z"/>
<path d="M320.34 167.57L322.84 170.07L320.34 172.57L317.84 170.07Z"/>
<path d="M345.03 167.54L347.53 170.04L345.03 172.54L342.53 170.04Z"/>
<path d="M369.71 167.51L372.21 170.01L369.71 172.51L367.21 170.01Z"/>
<path d="M394.40 167.48L396.90 169.98L394.40 172.48L391.90 169.98Z"/>
<path d="M419.08 167.46L421.58 169.96L419.08 172.46L416.58 169.96Z"/>
<path d="M443.77 167.44L446.27 169.94L443.77 172.44L441.27 169.94Z"/>
<path d="M468.45 167.42L470.95 169.92L468.45 172.42L465.95 169.92Z"/>
<path d="M493.14 167.41L495.64 169.91L493.14 172.41L490.64 169.91Z"/>
<path d="M517.82 167.40L520.32 169.90L517.82 172.40L515.32 169.90Z"/>
<path d="M542.51 167.40L545.01 169.90L542.51 172.40L540.01 169.90Z"/>
<path d="M48.80 174.20L51.30 176.70L48.80 179.20L46.30 176.70Z"/>
<path d="M73.49 174.20L75.99 176.70L73.49 179.20L70.99 176.70Z"/>
<path d="M98.17 174.20L100.67 176.70L98.17 179.20L95.67 176.70Z"/>
<path d="M122.86 176.10L125.36 178.60L122.86 181.10L120.36 178.60Z"/>
<path d="M147.54 175.90L150.04 178.40L147.54 180.90L145.04 178.40Z"/>
<path d="M172.23 174.00L174.73 176.50L172.23 179.00L169.73 176.50Z"/>
<path d="M196.91 173.40L199.41 175.90L196.91 178.40L194.41 175.90Z"/>
<path d="M221.60 173.23L224.10 175.73L221.60 178.23L219.10 175.73Z"/>
<path d="M246.28 173.11L248.78 175.61L246.28 178.11L243.78 175.61Z"/>
<path d="M270.97 173.03L273.47 175.53L270.97 178.03L268.47 175.53Z"/>
<path d="M295.66 173.00L298.16 175.50L295.66 178.00L293.16 175.50Z"/>
<path d="M320.34 173.00L322.84 175.50L320.34 178.00L317.84 175.50Z"/>
<path d="M345.03 173.00L347.53 175.50L345.03 178.00L342.53 175.50Z"/>
<path d="M369.71 173.00L372.21 175.50L369.71 178.00L367.21 175.50Z"/>
<path d="M394.40 173.00L396.90 175.50L394.40 178.00L391.90 175.50Z"/>
<path d="M419.08 173.00L421.58 175.50L419.08 178.00L416.58 175.50Z"/>
<path d="M443.77 173.00L446.27 175.50L443.77 178.00L441.27 175.50Z"/>
<path d="M468.45 173.00L470.95 175.50L468.45 178.00L465.95 175.50Z"/>
<path d="M493.14 173.00L495.64 175.50L493.14 178.00L490.64 175.50Z"/>
<path d="M517.82 173.00L520.32 175.50L517.82 178.00L515.32 175.50Z"/>
<path d="M542.51 173.00L545.01 175.50L542.51 178.00L540.01 175.50Z"/>
<circle cx="49.00" cy="200.51" r="2.35"/>
<circle cx="103.86" cy="200.80" r="2.35"/>
<circle cx="158.71" cy="201.00" r="2.35"/>
<circle cx="213.57" cy="200.50" r="2.35"/>
<circle cx="268.43" cy="199.48" r="2.35"/>
<circle cx="323.28" cy="187.60" r="2.35"/>
<circle cx="378.14" cy="173.59" r="2.35"/>
<circle cx="433.00" cy="165.89" r="2.35"/>
<circle cx="487.85" cy="158.28" r="2.35"/>
<circle cx="542.71" cy="150.10" r="2.35"/>
<circle cx="49.00" cy="206.01" r="2.35"/>
<circle cx="103.86" cy="206.41" r="2.35"/>
<circle cx="158.71" cy="207.00" r="2.35"/>
<circle cx="213.57" cy="206.39" r="2.35"/>
<circle cx="268.43" cy="205.18" r="2.35"/>
<circle cx="323.28" cy="193.00" r="2.35"/>
<circle cx="378.14" cy="179.89" r="2.35"/>
<circle cx="433.00" cy="172.19" r="2.35"/>
<circle cx="487.85" cy="164.88" r="2.35"/>
<circle cx="542.71" cy="156.30" r="2.35"/>
<circle cx="49.00" cy="213.41" r="2.35"/>
<circle cx="103.86" cy="213.90" r="2.35"/>
<circle cx="158.71" cy="214.10" r="2.35"/>
<circle cx="213.57" cy="213.70" r="2.35"/>
<circle cx="268.43" cy="212.58" r="2.35"/>
<circle cx="323.28" cy="200.20" r="2.35"/>
<circle cx="378.14" cy="187.00" r="2.35"/>
<circle cx="433.00" cy="179.89" r="2.35"/>
<circle cx="487.85" cy="172.37" r="2.35"/>
<circle cx="542.71" cy="163.90" r="2.35"/>
<rect x="46.80" y="218.99" width="4.4" height="4.4"/>
<rect x="101.66" y="218.60" width="4.4" height="4.4"/>
<rect x="156.51" y="218.40" width="4.4" height="4.4"/>
<rect x="211.37" y="218.40" width="4.4" height="4.4"/>
<rect x="266.23" y="218.50" width="4.4" height="4.4"/>
<rect x="321.08" y="218.36" width="4.4" height="4.4"/>
<rect x="375.94" y="217.39" width="4.4" height="4.4"/>
<rect x="430.80" y="216.79" width="4.4" height="4.4"/>
<rect x="485.65" y="215.98" width="4.4" height="4.4"/>
<rect x="540.51" y="214.60" width="4.4" height="4.4"/>
<rect x="46.80" y="228.00" width="4.4" height="4.4"/>
<rect x="101.66" y="227.69" width="4.4" height="4.4"/>
<rect x="156.51" y="227.30" width="4.4" height="4.4"/>
<rect x="211.37" y="227.20" width="4.4" height="4.4"/>
<rect x="266.23" y="227.41" width="4.4" height="4.4"/>
<rect x="321.08" y="226.66" width="4.4" height="4.4"/>
<rect x="375.94" y="225.59" width="4.4" height="4.4"/>
<rect x="430.80" y="224.89" width="4.4" height="4.4"/>
<rect x="485.65" y="224.18" width="4.4" height="4.4"/>
<rect x="540.51" y="222.70" width="4.4" height="4.4"/>
<rect x="46.80" y="234.50" width="4.4" height="4.4"/>
<rect x="101.66" y="234.40" width="4.4" height="4.4"/>
<rect x="156.51" y="234.30" width="4.4" height="4.4"/>
<rect x="211.37" y="234.40" width="4.4" height="4.4"/>
<rect x="266.23" y="234.71" width="4.4" height="4.4"/>
<rect x="321.08" y="233.57" width="4.4" height="4.4"/>
<rect x="375.94" y="232.59" width="4.4" height="4.4"/>
<rect x="430.80" y="231.99" width="4.4" height="4.4"/>
<rect x="485.65" y="231.59" width="4.4" height="4.4"/>
<rect x="540.51" y="230.50" width="4.4" height="4.4"/>
</g>
<g class="lb" font-size="9.4" fill="#333" transform="translate(0 265.1) scale(1 1.06)">
<text x="48.00" y="0" text-anchor="middle">0</text>
<text x="80.91" y="0" text-anchor="middle">20</text>
<text x="113.83" y="0" text-anchor="middle">40</text>
<text x="146.74" y="0" text-anchor="middle">60</text>
<text x="179.66" y="0" text-anchor="middle">80</text>
<text x="212.57" y="0" text-anchor="middle">100</text>
<text x="245.48" y="0" text-anchor="middle">120</text>
<text x="278.40" y="0" text-anchor="middle">140</text>
<text x="311.31" y="0" text-anchor="middle">160</text>
<text x="344.23" y="0" text-anchor="middle">180</text>
<text x="377.14" y="0" text-anchor="middle">200</text>
<text x="410.05" y="0" text-anchor="middle">220</text>
<text x="442.97" y="0" text-anchor="middle">240</text>
<text x="475.88" y="0" text-anchor="middle">260</text>
<text x="508.80" y="0" text-anchor="middle">280</text>
<text x="541.71" y="0" text-anchor="middle">300</text>
</g>
<g fill="#333">
<line x1="62.5" y1="8.2" x2="75.6" y2="8.2" stroke="#3a3a3a" stroke-width="1.0"/>
<g fill="#222"><path d="M69.20 5.70L71.70 8.20L69.20 10.70L66.70 8.20Z"/></g>
<line x1="62.5" y1="16.7" x2="75.6" y2="16.7" stroke="#3a3a3a" stroke-width="1.0"/>
<g fill="#222"><path d="M67.10 14.30H71.30L69.70 16.70L71.30 19.10H67.10L68.70 16.70Z"/></g>
<line x1="62.5" y1="25.2" x2="75.6" y2="25.2" stroke="#3a3a3a" stroke-width="1.0"/>
<g fill="#222"><rect x="67.00" y="23.00" width="4.4" height="4.4"/></g>
<line x1="62.5" y1="33.7" x2="75.6" y2="33.7" stroke="#3a3a3a" stroke-width="1.0"/>
<g fill="#222"><circle cx="69.20" cy="33.70" r="2.35"/></g>
</g>
<g fill="#333" font-size="7.05">
<text x="78.7" y="10.80" transform="translate(0 10.80) scale(1 1.05) translate(0 -10.80)">HE</text>
<text x="78.7" y="19.30" transform="translate(0 19.30) scale(1 1.05) translate(0 -19.30)">HE-A</text>
<text x="78.7" y="27.80" transform="translate(0 27.80) scale(1 1.05) translate(0 -27.80)">S</text>
<text x="78.7" y="36.30" transform="translate(0 36.30) scale(1 1.05) translate(0 -36.30)">S-CR-A</text>
</g>
<text x="4.9" y="0" font-size="9.4" fill="#333" transform="translate(0 21.7) scale(1 1.0)">1 (W/g)</text>
<text class="nb" transform="translate(12.0,211.5) rotate(-90)" font-size="14.2" fill="#333">Heat Flow Endo Up (W/mg)</text>
<text class="nb" x="295" y="0" transform="translate(0 279) scale(1 1.03)" text-anchor="middle" font-size="14.3" fill="#333">Temperature (°C)</text>
</g>
</svg></div>
</body></html>
